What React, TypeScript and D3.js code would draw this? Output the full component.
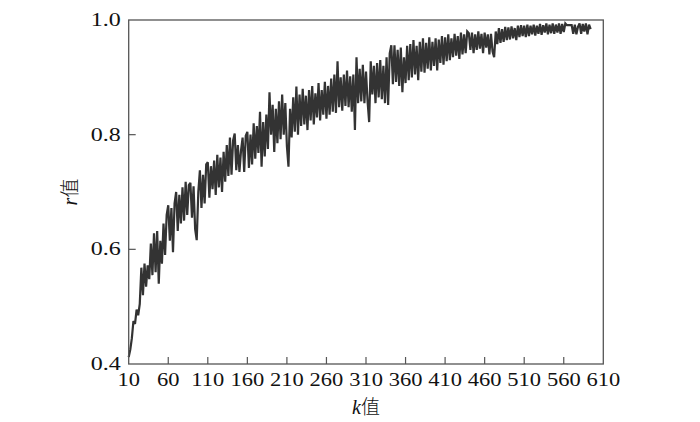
import React from "react";
import * as d3 from "d3";

const kStart = 10;
const kStep = 2;
const rValues: number[] = [
  0.412, 0.425, 0.445, 0.475, 0.470, 0.495, 0.485, 0.505, 0.568, 0.520,
  0.575, 0.535, 0.572, 0.548, 0.610, 0.555, 0.628, 0.560, 0.632, 0.540,
  0.615, 0.575, 0.645, 0.590, 0.660, 0.677, 0.615, 0.672, 0.595, 0.680,
  0.700, 0.632, 0.695, 0.645, 0.708, 0.650, 0.718, 0.660, 0.712, 0.716,
  0.655, 0.710, 0.635, 0.616, 0.700, 0.738, 0.672, 0.730, 0.680, 0.748,
  0.752, 0.690, 0.745, 0.705, 0.755, 0.695, 0.765, 0.708, 0.760, 0.700,
  0.770, 0.718, 0.782, 0.728, 0.795, 0.730, 0.790, 0.802, 0.738, 0.782,
  0.735, 0.772, 0.795, 0.735, 0.798, 0.805, 0.742, 0.800, 0.748, 0.820,
  0.758, 0.815, 0.768, 0.840, 0.744, 0.822, 0.762, 0.835, 0.775, 0.874,
  0.800, 0.852, 0.770, 0.845, 0.785, 0.858, 0.792, 0.870, 0.800, 0.855,
  0.780, 0.744, 0.845, 0.795, 0.865, 0.805, 0.884, 0.800, 0.870, 0.815,
  0.880, 0.818, 0.868, 0.808, 0.878, 0.825, 0.885, 0.818, 0.872, 0.830,
  0.890, 0.825, 0.878, 0.835, 0.892, 0.828, 0.885, 0.835, 0.898, 0.840,
  0.905, 0.838, 0.928, 0.848, 0.900, 0.842, 0.905, 0.850, 0.912, 0.848,
  0.902, 0.840, 0.905, 0.808, 0.935, 0.855, 0.915, 0.858, 0.922, 0.855,
  0.910, 0.858, 0.822, 0.928, 0.870, 0.920, 0.855, 0.925, 0.865, 0.930,
  0.862, 0.920, 0.855, 0.935, 0.852, 0.942, 0.956, 0.888, 0.956, 0.892,
  0.948, 0.885, 0.952, 0.874, 0.935, 0.890, 0.955, 0.895, 0.958, 0.900,
  0.965, 0.905, 0.955, 0.895, 0.962, 0.910, 0.968, 0.908, 0.960, 0.915,
  0.970, 0.912, 0.962, 0.920, 0.968, 0.912, 0.966, 0.925, 0.972, 0.922,
  0.970, 0.928, 0.975, 0.930, 0.968, 0.935, 0.976, 0.938, 0.972, 0.932,
  0.978, 0.940, 0.975, 0.942, 0.980, 0.977, 0.948, 0.978, 0.942, 0.975,
  0.948, 0.980, 0.950, 0.976, 0.942, 0.978, 0.952, 0.975, 0.940, 0.976,
  0.945, 0.935, 0.980, 0.958, 0.986, 0.960, 0.984, 0.962, 0.988, 0.965,
  0.987, 0.966, 0.989, 0.968, 0.986, 0.965, 0.990, 0.970, 0.991, 0.972,
  0.990, 0.970, 0.992, 0.972, 0.990, 0.975, 0.992, 0.973, 0.990, 0.976,
  0.993, 0.974, 0.991, 0.978, 0.994, 0.975, 0.992, 0.977, 0.994, 0.976,
  0.992, 0.978, 0.994, 0.976, 0.993, 0.979, 0.994, 0.991, 0.991, 0.991,
  0.991, 0.976, 0.992, 0.975, 0.988, 0.994, 0.976, 0.993, 0.980, 0.994,
  0.975, 0.992, 0.984,
];
const xTicks = [10, 60, 110, 160, 210, 260, 310, 360, 410, 460, 510, 560, 610];
const yTicks = [0.4, 0.6, 0.8, 1.0];
const xTitle = "值";
const yTitle = "值";

export default function App() {
  const left = 128.7, right = 603.3, top = 20, bottom = 364;
  const x = d3.scaleLinear().domain([10, 610]).range([left, right]);
  const y = d3.scaleLinear().domain([0.4, 1.0]).range([bottom, top]);
  const data = rValues.map((r, i) => [kStart + i * kStep, r] as [number, number]);
  const line = d3
    .line<[number, number]>()
    .x((d) => x(d[0]))
    .y((d) => y(d[1]));
  const axisColor = "#555";
  const serif = "'Liberation Serif', 'Times New Roman', serif";
  return (
    <svg
      width={700}
      height={422}
      style={{ position: "absolute", left: 0, top: 0, background: "#fff" }}
    >
      <path d={line(data) || ""} fill="none" stroke="#333" strokeWidth={2.2} strokeLinejoin="miter" strokeMiterlimit={3} />
      <rect x={left} y={top} width={right - left} height={bottom - top} fill="none" stroke={axisColor} strokeWidth={1.3} />
      {xTicks.map((t) => (
        <g key={"x" + t}>
          {t !== 10 && t !== 610 && (
            <line x1={x(t)} x2={x(t)} y1={bottom} y2={bottom - 7} stroke={axisColor} strokeWidth={1.2} />
          )}
          <text
            transform={`translate(${x(t)},${bottom + 22}) scale(1.25,1)`}
            textAnchor="middle"
            fontFamily={serif}
            fontSize={18}
            fill="#111"
          >
            {t}
          </text>
        </g>
      ))}
      {yTicks.map((t) => (
        <g key={"y" + t}>
          {t !== 0.4 && t !== 1.0 && (
            <line x1={left} x2={left + 7} y1={y(t)} y2={y(t)} stroke={axisColor} strokeWidth={1.2} />
          )}
          <text
            transform={`translate(${left - 8},${y(t) + 6}) scale(1.3,1)`}
            textAnchor="end"
            fontFamily={serif}
            fontSize={18.5}
            fill="#111"
          >
            {t.toFixed(1)}
          </text>
        </g>
      ))}
      <text
        transform={`translate(${(left + right) / 2},${bottom + 50})`}
        textAnchor="middle"
        fontSize={19}
        fill="#111"
      >
        <tspan fontFamily={serif} fontStyle="italic" fontSize={20}>k</tspan>
        <tspan fontFamily="'Noto Sans CJK SC', sans-serif" fontWeight={300}>{xTitle}</tspan>
      </text>
      <text
        transform={`translate(${left - 52},${(top + bottom) / 2}) rotate(-90)`}
        textAnchor="middle"
        fontSize={19}
        fill="#111"
      >
        <tspan fontFamily={serif} fontStyle="italic" fontSize={20}>r</tspan>
        <tspan fontFamily="'Noto Sans CJK SC', sans-serif" fontWeight={300}>{yTitle}</tspan>
      </text>
    </svg>
  );
}
